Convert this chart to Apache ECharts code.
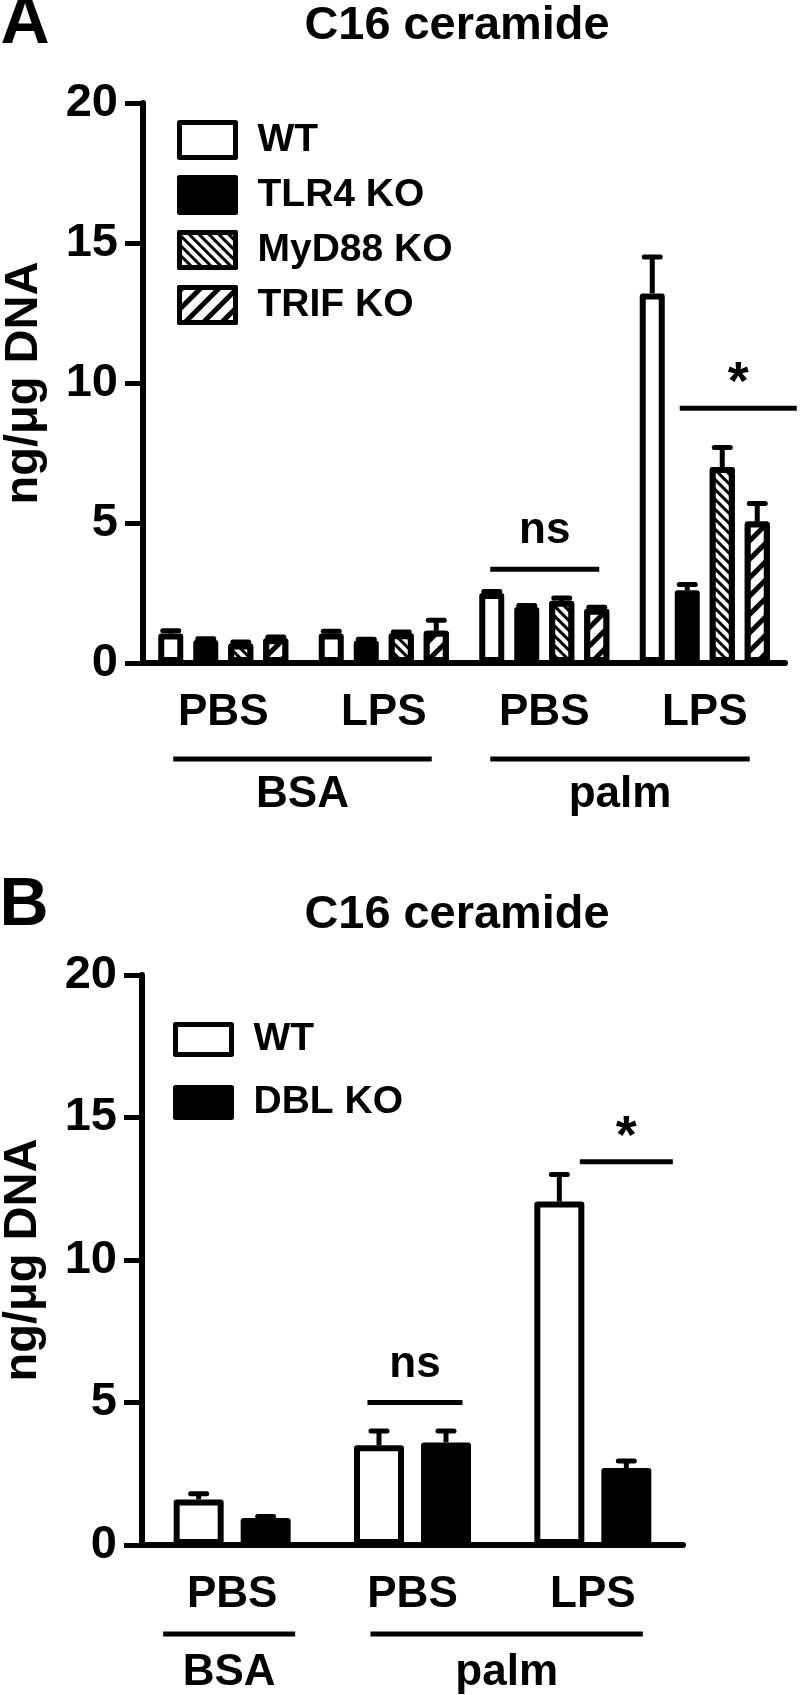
<!DOCTYPE html>
<html>
<head>
<meta charset="utf-8">
<script src="https://cdn.jsdelivr.net/npm/echarts@6/dist/echarts.min.js"></script>
<style>
  html, body { margin: 0; padding: 0; background: #fff; }
  #main { width: 800px; height: 1695px; }
</style>
</head>
<body>
<div id="main"></div>
<script>
// panel A values (ng/ug DNA), mean and upper error
var catsA = ['PBS', 'LPS', 'PBS', 'LPS'];
var wtA = [1.05, 1.05, 2.5, 13.2];
var wtErrA = [0.1, 0.08, 0.05, 1.3];
var tlr4A = [0.82, 0.8, 2.0, 2.6];
var tlr4ErrA = [0.05, 0.05, 0.05, 0.2];
var myd88A = [0.7, 1.06, 2.22, 7.0];
var myd88ErrA = [0.05, 0.05, 0.1, 0.7];
var trifA = [0.88, 1.15, 1.94, 5.05];
var trifErrA = [0.05, 0.38, 0.05, 0.65];

// panel B values
var catsB = ['PBS', 'PBS', 'LPS'];
var wtB = [1.6, 3.5, 12.05];
var wtErrB = [0.2, 0.5, 0.95];
var dblB = [0.95, 3.6, 2.7];
var dblErrB = [0.05, 0.4, 0.25];

var yTicks = [0, 5, 10, 15, 20];

// significance marks: category, height, text
var sigA = [[2, 3.35, 'ns'], [3, 9.1, '*']];
var sigB = [[1, 5.0, 'ns'], [2, 13.45, '*']];
// treatment groups under the axis: first category, last category, text
var groupsA = [[0, 1, 'BSA'], [2, 3, 'palm']];
var groupsB = [[0, 0, 'BSA'], [1, 2, 'palm']];

// layout only (px from category centre)
var sigSpanA = [[-54, 55], [-25, 92]];
var sigSpanB = [[-45, 50], [-13, 80]];
var groupSpanA = [[-50, 48], [-54, 45]];
var groupSpanB = [[-69, 63], [-42, 50]];

var FONT = '"Liberation Sans", Arial, Helvetica, sans-serif';
var barWA = 25, gapA = 10;
var barWB = 50, gapB = 17;

var chart = echarts.init(document.getElementById('main'), null, { renderer: 'canvas' });

var stripeDown = {
  symbol: 'rect', symbolSize: 1, dashArrayX: [1, 0], dashArrayY: [3, 4],
  rotation: Math.PI / 4, color: '#000', backgroundColor: '#fff'
};
var stripeUp = {
  symbol: 'rect', symbolSize: 1, dashArrayX: [1, 0], dashArrayY: [5, 8],
  rotation: -Math.PI / 4, color: '#000', backgroundColor: '#fff'
};

function barSeries(name, data, idx, fill, decal, barW, gap) {
  var s = {
    name: name, type: 'bar', xAxisIndex: idx, yAxisIndex: idx, data: data,
    barWidth: barW, barGap: (gap / barW * 100) + '%',
    itemStyle: { color: fill, borderColor: '#000', borderWidth: 6, borderJoin: 'round' }
  };
  if (decal) s.itemStyle.decal = decal;
  return s;
}

function errData(lists) {
  var out = [];
  lists.forEach(function (pair, k) {
    pair[0].forEach(function (v, i) {
      out.push([i, v, pair[1][i], k]);
    });
  });
  return out;
}

function errRender(pitch, n) {
  return function (params, api) {
    var top = api.value(1), err = api.value(2), k = api.value(3);
    var p0 = api.coord([api.value(0), top]);
    var p1 = api.coord([api.value(0), top + err]);
    var x = p0[0] + (k - (n - 1) / 2) * pitch;
    return {
      type: 'group',
      children: [
        { type: 'line', shape: { x1: x, y1: p0[1], x2: x, y2: p1[1] }, style: { stroke: '#000', lineWidth: 5 } },
        { type: 'line', shape: { x1: x - 8, y1: p1[1], x2: x + 8, y2: p1[1] }, style: { stroke: '#000', lineWidth: 5, lineCap: 'round' } }
      ]
    };
  };
}

function sigRender(spans) {
  return function (params, api) {
    var p = api.coord([api.value(0), api.value(1)]);
    var sp = spans[params.dataIndex];
    var txt = api.value(2);
    var star = txt === '*';
    return {
      type: 'group',
      children: [
        { type: 'line', shape: { x1: p[0] + sp[0], y1: p[1], x2: p[0] + sp[1], y2: p[1] }, style: { stroke: '#000', lineWidth: 5 } },
        { type: 'text', x: (p[0] + sp[0] + p[0] + sp[1]) / 2, y: p[1] - (star ? 24 : 38),
          style: { text: txt, fontSize: star ? 54 : 44, fontWeight: 'bold', fontFamily: FONT, fill: '#000', align: 'center', verticalAlign: 'middle' } }
      ]
    };
  };
}

function groupRender(spans, lineOff, textOff) {
  return function (params, api) {
    var a = api.coord([api.value(0), 0]);
    var b = api.coord([api.value(2), 0]);
    var sp = spans[params.dataIndex];
    var x1 = a[0] + sp[0], x2 = b[0] + sp[1];
    return {
      type: 'group',
      children: [
        { type: 'line', shape: { x1: x1, y1: a[1] + lineOff, x2: x2, y2: a[1] + lineOff }, style: { stroke: '#000', lineWidth: 5 } },
        { type: 'text', x: (x1 + x2) / 2, y: a[1] + textOff,
          style: { text: api.value(3), fontSize: 44, fontWeight: 'bold', fontFamily: FONT, fill: '#000', align: 'center', verticalAlign: 'middle' } }
      ]
    };
  };
}

function xAxisCfg(cats, idx) {
  return {
    type: 'category', gridIndex: idx, data: cats,
    axisLine: { lineStyle: { color: '#000', width: 6 } },
    axisTick: { alignWithLabel: true, length: 20, lineStyle: { color: '#000', width: 5 } },
    axisLabel: { color: '#000', fontSize: 44, fontWeight: 'bold', fontFamily: FONT, margin: 28, interval: 0 }
  };
}

function yAxisCfg(idx) {
  return {
    type: 'value', gridIndex: idx, min: yTicks[0], max: yTicks[yTicks.length - 1], interval: 5,
    name: 'ng/μg DNA', nameLocation: 'middle', nameRotate: 90, nameGap: 95,
    nameTextStyle: { color: '#000', fontSize: 47, fontWeight: 'bold', fontFamily: FONT },
    axisLine: { show: true, lineStyle: { color: '#000', width: 6 } },
    axisTick: { show: true, length: 18, lineStyle: { color: '#000', width: 5 } },
    axisLabel: { color: '#000', fontSize: 47, fontWeight: 'bold', fontFamily: FONT, margin: 25 },
    splitLine: { show: false }
  };
}

function legendCfg(names, left, top, h, gap) {
  return {
    data: names, orient: 'vertical', left: left, top: top, icon: 'rect',
    itemWidth: 56, itemHeight: h, itemGap: gap, selectedMode: false,
    itemStyle: { borderWidth: 5, borderColor: '#000' },
    textStyle: { color: '#000', fontSize: 39, fontWeight: 'bold', fontFamily: FONT, lineHeight: h, padding: [0, 0, 0, 17] }
  };
}

function panelText(x, y, txt, size, sx) {
  return {
    type: 'text', x: x, y: y, scaleX: sx,
    style: { text: txt, fontSize: size, fontWeight: 'bold', fontFamily: FONT, fill: '#000', align: 'center', verticalAlign: 'middle' }
  };
}

var option = {
  animation: false,
  backgroundColor: '#fff',
  grid: [
    { left: 143, top: 103, width: 642, height: 560, outerBoundsMode: 'none' },
    { left: 142, top: 975, width: 541, height: 570, outerBoundsMode: 'none' }
  ],
  xAxis: [xAxisCfg(catsA, 0), xAxisCfg(catsB, 1)],
  yAxis: [yAxisCfg(0), yAxisCfg(1)],
  legend: [
    legendCfg(['WT', 'TLR4 KO', 'MyD88 KO', 'TRIF KO'], 172, 115, 35, 15),
    legendCfg(['WT', 'DBL KO'], 168, 1015, 30, 24)
  ],
  graphic: [
    panelText(25, 24, 'A', 68, 1),
    panelText(457, 26, 'C16 ceramide', 46, 1.02),
    panelText(24, 906, 'B', 68, 1),
    panelText(457, 915, 'C16 ceramide', 46, 1.02)
  ],
  series: [
    barSeries('WT', wtA, 0, '#fff', null, barWA, gapA),
    barSeries('TLR4 KO', tlr4A, 0, '#000', null, barWA, gapA),
    barSeries('MyD88 KO', myd88A, 0, '#fff', stripeDown, barWA, gapA),
    barSeries('TRIF KO', trifA, 0, '#fff', stripeUp, barWA, gapA),
    {
      type: 'custom', xAxisIndex: 0, yAxisIndex: 0, z: 3,
      renderItem: errRender(barWA + gapA, 4), encode: { x: 0, y: 1 },
      data: errData([[wtA, wtErrA], [tlr4A, tlr4ErrA], [myd88A, myd88ErrA], [trifA, trifErrA]])
    },
    {
      type: 'custom', xAxisIndex: 0, yAxisIndex: 0, renderItem: sigRender(sigSpanA),
      encode: { x: 0, y: 1 }, data: sigA
    },
    {
      type: 'custom', xAxisIndex: 0, yAxisIndex: 0, clip: false, renderItem: groupRender(groupSpanA, 96, 132),
      encode: { x: 0, y: 1 }, data: groupsA.map(function (g) { return [g[0], 0, g[1], g[2]]; })
    },
    barSeries('WT', wtB, 1, '#fff', null, barWB, gapB),
    barSeries('DBL KO', dblB, 1, '#000', null, barWB, gapB),
    {
      type: 'custom', xAxisIndex: 1, yAxisIndex: 1, z: 3,
      renderItem: errRender(barWB + gapB, 2), encode: { x: 0, y: 1 },
      data: errData([[wtB, wtErrB], [dblB, dblErrB]])
    },
    {
      type: 'custom', xAxisIndex: 1, yAxisIndex: 1, renderItem: sigRender(sigSpanB),
      encode: { x: 0, y: 1 }, data: sigB
    },
    {
      type: 'custom', xAxisIndex: 1, yAxisIndex: 1, clip: false, renderItem: groupRender(groupSpanB, 89, 128),
      encode: { x: 0, y: 1 }, data: groupsB.map(function (g) { return [g[0], 0, g[1], g[2]]; })
    }
  ]
};

chart.setOption(option);
</script>
</body>
</html>
